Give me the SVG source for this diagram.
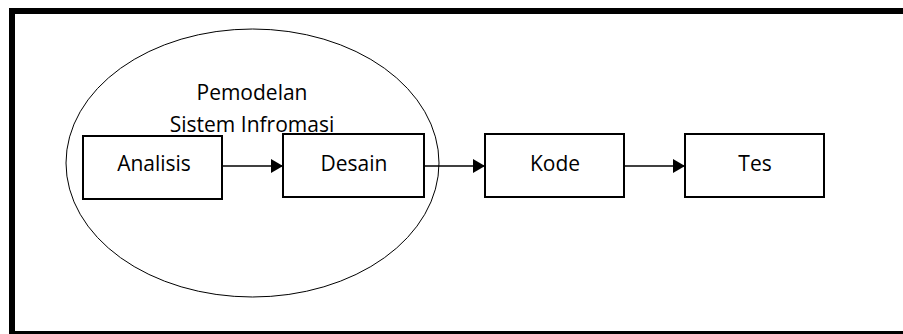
<svg xmlns="http://www.w3.org/2000/svg" width="903" height="334" viewBox="0 0 903 334">
<style>
.box{fill:#fff;stroke:#000;stroke-width:2}
.lbl{font-family:"Open Sans","Liberation Sans",sans-serif;font-size:21px;fill:#000;text-anchor:middle}
.con{stroke:#000;stroke-width:1.5;fill:none;marker-end:url(#ah)}
</style>
<defs>
<marker id="ah" markerUnits="userSpaceOnUse" markerWidth="12" markerHeight="14" refX="12" refY="7" orient="auto">
<path d="M0,0 L12,7 L0,14 Z" fill="#000"/>
</marker>
</defs>
<rect x="0" y="0" width="903" height="334" fill="#fff"/>
<g id="frame" fill="#000">
<rect x="9" y="8" width="894" height="6"/>
<rect x="9" y="8" width="6" height="326"/>
<rect x="9" y="331" width="894" height="3"/>
</g>
<g id="pemodelan">
<ellipse cx="252.5" cy="163" rx="186.5" ry="134" fill="none" stroke="#000" stroke-width="1"/>
<text class="lbl" x="252" y="100">Pemodelan</text>
<text class="lbl" x="252" y="132">Sistem Infromasi</text>
</g>
<g id="analisis">
<rect class="box" x="83" y="136" width="139" height="63"/>
<text class="lbl" x="154" y="171">Analisis</text>
</g>
<g id="desain">
<rect class="box" x="283" y="134" width="141" height="63"/>
<text class="lbl" x="354" y="171">Desain</text>
</g>
<g id="kode">
<rect class="box" x="485" y="134" width="139" height="63"/>
<text class="lbl" x="555" y="171">Kode</text>
</g>
<g id="tes">
<rect class="box" x="685" y="134" width="139" height="63"/>
<text class="lbl" x="755" y="171">Tes</text>
</g>
<g id="connectors">
<line class="con" x1="223" y1="166" x2="283" y2="166"/>
<line class="con" x1="425" y1="166" x2="485" y2="166"/>
<line class="con" x1="625" y1="166" x2="685" y2="166"/>
</g>
</svg>
